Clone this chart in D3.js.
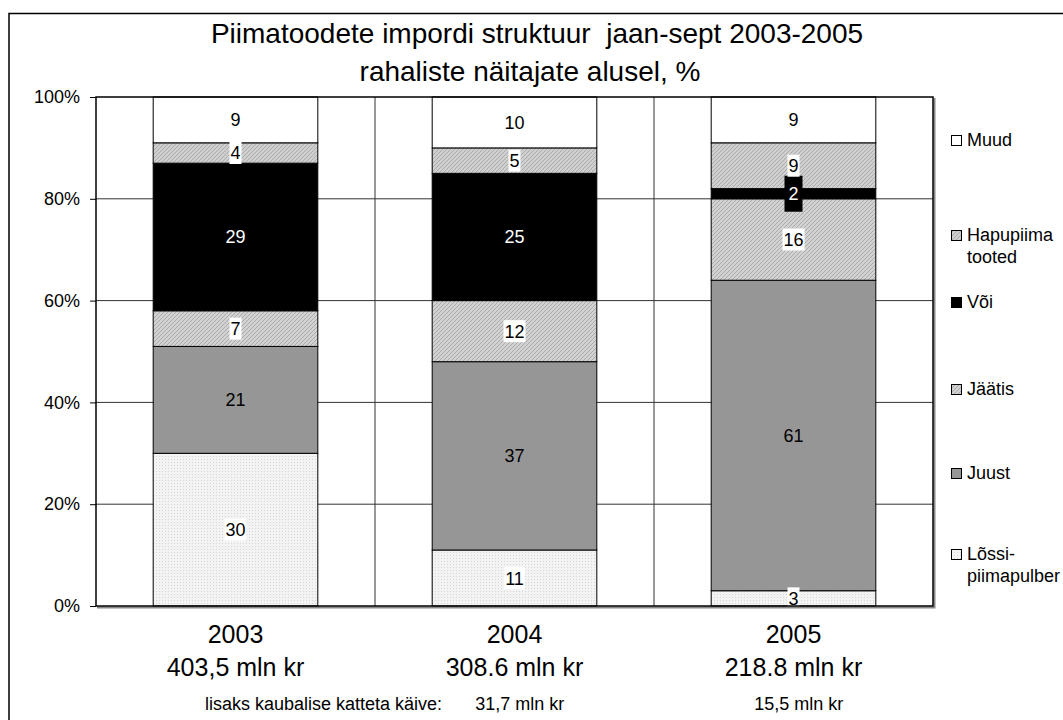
<!DOCTYPE html>
<html>
<head>
<meta charset="utf-8">
<script src="https://cdn.jsdelivr.net/npm/d3@7"></script>
<style>
  body { margin: 0; background: #fff; }
  svg { font-family: "Liberation Sans", Arial, sans-serif; }
  text { white-space: pre; }
</style>
</head>
<body>
<div id="chart"></div>
<script>
// Andmed
const years = ["2003", "2004", "2005"];
const totals = ["403,5 mln kr", "308.6 mln kr", "218.8 mln kr"];
const seriesNames = ["Lõssi-piimapulber", "Juust", "Jäätis", "Või", "Hapupiima tooted", "Muud"];
const lossi = [30, 11, 3];
const juust = [21, 37, 61];
const jaatis = [7, 12, 16];
const voi = [29, 25, 2];
const hapupiima = [4, 5, 9];
const muud = [9, 10, 9];
const yTicks = [0, 20, 40, 60, 80, 100];
const legendLines = [["Muud"], ["Hapupiima", "tooted"], ["Või"], ["Jäätis"], ["Juust"], ["Lõssi-", "piimapulber"]];
const extraLabel = "lisaks kaubalise katteta käive:";
const extraYears = ["2004", "2005"];
const extraValues = ["31,7 mln kr", "15,5 mln kr"];

const width = 1063, height = 720;
const margin = { top: 97, right: 130, bottom: 114, left: 96 };

const svg = d3.select("#chart").append("svg")
    .attr("width", width)
    .attr("height", height);

// Mustrid
const defs = svg.append("defs");
const dots = defs.append("pattern").attr("id", "pLossi")
    .attr("width", 3).attr("height", 3).attr("patternUnits", "userSpaceOnUse");
dots.append("rect").attr("width", 3).attr("height", 3).attr("fill", "#f3f3f3");
dots.append("rect").attr("width", 1).attr("height", 1).attr("fill", "#d6d6d6");

function hatch(id, bg, fg) {
    const p = defs.append("pattern").attr("id", id)
        .attr("width", 4).attr("height", 4).attr("patternUnits", "userSpaceOnUse");
    p.append("rect").attr("width", 4).attr("height", 4).attr("fill", bg);
    p.append("path").attr("d", "M0,4 L4,0 M-1,1 L1,-1 M3,5 L5,3")
        .attr("stroke", fg).attr("stroke-width", 1);
}
hatch("pJaatis", "#d2d2d2", "#aaaaaa");
hatch("pHapu", "#cfcfcf", "#acacac");

const fills = ["url(#pLossi)", "#969696", "url(#pJaatis)", "#000000", "url(#pHapu)", "#ffffff"];
const labelStyle = ["box", "plain", "box", "dark", "box", "plain"];

// Välimine raam
svg.append("path")
    .attr("d", `M${width + 2},13.5 L9,13.5 L9,${height + 2}`)
    .attr("fill", "none").attr("stroke", "#000").attr("stroke-width", 1.5);

// Pealkiri
svg.append("text").attr("x", 537).attr("y", 43).attr("text-anchor", "middle")
    .attr("font-size", 28).text("Piimatoodete impordi struktuur  jaan-sept 2003-2005");
svg.append("text").attr("x", 530).attr("y", 81).attr("text-anchor", "middle")
    .attr("font-size", 28).text("rahaliste näitajate alusel, %");

const x = d3.scaleBand()
    .domain(years)
    .range([margin.left, width - margin.right])
    .paddingInner(0.41)
    .paddingOuter(0.205);

const y = d3.scaleLinear()
    .domain([0, 100])
    .range([height - margin.bottom, margin.top]);

// Ruudustik
svg.append("g").selectAll("line").data(yTicks.slice(1, -1)).join("line")
    .attr("x1", margin.left).attr("x2", width - margin.right)
    .attr("y1", d => y(d)).attr("y2", d => y(d))
    .attr("stroke", "#333").attr("stroke-width", 1);

// Kategooriate eraldajad
const plotW = width - margin.left - margin.right;
svg.append("g").selectAll("line").data(d3.range(1, years.length)).join("line")
    .attr("x1", i => margin.left + plotW * i / years.length)
    .attr("x2", i => margin.left + plotW * i / years.length)
    .attr("y1", y(100)).attr("y2", y(0))
    .attr("stroke", "#333").attr("stroke-width", 1);

// Virnad
const table = years.map((yr, i) => ({
    year: yr,
    [seriesNames[0]]: lossi[i], [seriesNames[1]]: juust[i], [seriesNames[2]]: jaatis[i],
    [seriesNames[3]]: voi[i], [seriesNames[4]]: hapupiima[i], [seriesNames[5]]: muud[i]
}));
const stacked = d3.stack().keys(seriesNames)(table);

const layers = svg.append("g").selectAll("g").data(stacked).join("g")
    .attr("fill", (d, i) => fills[i]);
layers.selectAll("rect").data(d => d).join("rect")
    .attr("x", d => x(d.data.year))
    .attr("y", d => y(d[1]))
    .attr("width", x.bandwidth())
    .attr("height", d => y(d[0]) - y(d[1]))
    .attr("stroke", "#000").attr("stroke-width", 1);

// Sildid
const labels = svg.append("g").attr("font-size", 18).attr("text-anchor", "middle");
stacked.forEach((layer, si) => {
    layer.forEach(d => {
        const cx = x(d.data.year) + x.bandwidth() / 2;
        const cy = y((d[0] + d[1]) / 2);
        const txt = String(d[1] - d[0]);
        const bg = labels.append("rect");
        const t = labels.append("text").attr("x", cx).attr("y", cy + 6.5)
            .attr("fill", labelStyle[si] === "dark" ? "#fff" : "#000")
            .text(txt);
        const w = t.node().getComputedTextLength();
        if (labelStyle[si] === "box") {
            bg.attr("x", cx - w / 2 - 1).attr("y", cy - 11)
                .attr("width", w + 2).attr("height", 22).attr("fill", "#fff");
        } else if (labelStyle[si] === "dark") {
            bg.attr("x", cx - w / 2 - 4).attr("y", cy - 18)
                .attr("width", w + 8).attr("height", 36).attr("fill", "#000");
        } else {
            bg.remove();
        }
    });
});

// Plot-ala raam (varjuga)
svg.append("path")
    .attr("d", `M${width - margin.right + 1.5},${y(100) + 1} L${width - margin.right + 1.5},${y(0) + 1.5} L${margin.left + 1},${y(0) + 1.5}`)
    .attr("fill", "none").attr("stroke", "#888").attr("stroke-width", 2);
svg.append("rect")
    .attr("x", margin.left).attr("y", y(100))
    .attr("width", plotW)
    .attr("height", y(0) - y(100))
    .attr("fill", "none").attr("stroke", "#000").attr("stroke-width", 1.5);

// Y-telg
const yAxis = svg.append("g")
    .attr("transform", `translate(${margin.left},0)`)
    .call(d3.axisLeft(y).tickValues(yTicks).tickSize(6).tickPadding(10).tickFormat(d => d + "%"));
yAxis.select(".domain").remove();
yAxis.selectAll("text").attr("font-size", 18)
    .attr("font-family", "Liberation Sans, Arial, sans-serif").attr("fill", "#000");
yAxis.selectAll("line").attr("stroke", "#000");

// X-sildid
const xl = svg.append("g").attr("font-size", 25).attr("text-anchor", "middle");
years.forEach((yr, i) => {
    const cx = x(yr) + x.bandwidth() / 2;
    xl.append("text").attr("x", cx).attr("y", 643).text(yr);
    xl.append("text").attr("x", cx).attr("y", 676).text(totals[i]);
});

// Lisarida
const foot = svg.append("g").attr("font-size", 18);
foot.append("text").attr("x", 205).attr("y", 710).text(extraLabel);
extraYears.forEach((yr, i) => {
    foot.append("text").attr("x", x(yr) + 43).attr("y", 710).text(extraValues[i]);
});

// Legend
const legendFills = [fills[5], fills[4], fills[3], fills[2], fills[1], fills[0]];
const legendY = [146, 241, 308, 395, 479, 560];
const legend = svg.append("g").attr("font-size", 18);
legendLines.forEach((lines, i) => {
    legend.append("rect").attr("x", 951.5).attr("y", legendY[i] - 10.5)
        .attr("width", 10).attr("height", 10)
        .attr("fill", legendFills[i]).attr("stroke", "#000").attr("stroke-width", 1);
    lines.forEach((ln, j) => {
        legend.append("text").attr("x", 967).attr("y", legendY[i] + j * 22).text(ln);
    });
});
</script>
</body>
</html>
